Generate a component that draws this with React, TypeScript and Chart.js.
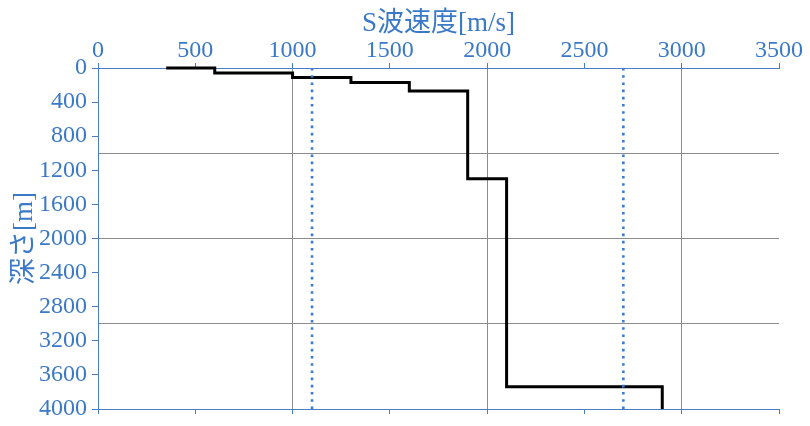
import React, { useEffect, useRef } from "react";
import { Chart, registerables } from "chart.js";

Chart.register(...registerables);

// Step profile: S-wave velocity [m/s] vs depth [m]
const profileVelocity = [350, 600, 600, 1000, 1000, 1300, 1300, 1600, 1600, 1900, 1900, 2100, 2100, 2900, 2900];
const profileDepth = [0, 0, 60, 60, 110, 110, 170, 170, 270, 270, 1300, 1300, 3740, 3740, 4000];

// Dotted reference velocities
const guideVelocities = [1100, 2700];
const guideDepthRange = [0, 4000];

// Axis tick settings
const xTicks = [0, 500, 1000, 1500, 2000, 2500, 3000, 3500];
const xGridValues = [1000, 2000, 3000];
const yTickLabels = [0, 400, 800, 1200, 1600, 2000, 2400, 2800, 3200, 3600, 4000];
const yGridValues = [1000, 2000, 3000];

const xTitle = "S波速度[m/s]";
const yTitle = "深さ[m]";

const AXIS_BLUE = "#4a7ec4";
const TEXT_BLUE = "#3a78c8";
const GRID_GRAY = "#8c8c8c";
const DOT_BLUE = "#3a7bd5";
const FONT = "'Liberation Serif', 'Noto Sans CJK JP', serif";

export default function App() {
  const ref = useRef<HTMLCanvasElement | null>(null);

  useEffect(() => {
    if (!ref.current) return;
    const profile = profileVelocity.map((v, i) => ({ x: v, y: profileDepth[i] }));
    const guides = guideVelocities.map((v) => ({
      data: guideDepthRange.map((d) => ({ x: v, y: d })),
      borderColor: DOT_BLUE,
      borderWidth: 2.6,
      borderDash: [2.6, 4.6],
      borderCapStyle: "butt" as const,
      showLine: true,
      pointRadius: 0,
      fill: false,
    }));
    const yAll = Array.from(new Set([...yTickLabels, ...yGridValues])).sort((a, b) => a - b);

    const chart = new Chart(ref.current, {
      type: "scatter",
      data: {
        datasets: [
          ...guides,
          {
            data: profile,
            borderColor: "#000000",
            borderWidth: 3,
            showLine: true,
            pointRadius: 0,
            fill: false,
            tension: 0,
            clip: 6,
            borderJoinStyle: "miter",
          } as any,
        ],
      },
      options: {
        animation: false,
        responsive: true,
        maintainAspectRatio: false,
        layout: { padding: { left: 0, right: 31, top: 0, bottom: 0 } },
        plugins: { legend: { display: false }, tooltip: { enabled: false } },
        scales: {
          x: {
            type: "linear",
            position: "top",
            min: 0,
            max: 3500,
            afterBuildTicks: (s: any) => {
              s.ticks = xTicks.map((v) => ({ value: v }));
            },
            ticks: {
              color: TEXT_BLUE,
              font: { family: FONT, size: 24, lineHeight: 1 },
              padding: 0,
              maxRotation: 0,
              autoSkip: false,
              callback: (v: any) => String(v),
            },
            grid: {
              color: (c: any) => (xGridValues.includes(c.tick?.value) ? GRID_GRAY : "rgba(0,0,0,0)"),
              tickColor: AXIS_BLUE,
              tickLength: 5,
              lineWidth: 1,
            },
            border: { color: AXIS_BLUE, width: 1 },
            title: {
              display: true,
              text: xTitle,
              color: TEXT_BLUE,
              font: { family: FONT, size: 27, lineHeight: 1.2 },
              padding: { top: 8, bottom: 0 },
            },
            afterFit: (s: any) => {
              s.height = 68;
              s.paddingLeft = 0;
              s.paddingRight = 0;
            },
          },
          x2: {
            type: "linear",
            position: "bottom",
            min: 0,
            max: 3500,
            afterBuildTicks: (s: any) => {
              s.ticks = xTicks.map((v) => ({ value: v }));
            },
            ticks: { display: false },
            grid: { drawOnChartArea: false, tickColor: AXIS_BLUE, tickLength: 5 },
            border: { color: AXIS_BLUE, width: 1 },
            afterFit: (s: any) => {
              s.height = 17;
              s.paddingLeft = 0;
              s.paddingRight = 0;
            },
          },
          y: {
            type: "linear",
            position: "left",
            reverse: true,
            min: 0,
            max: 4000,
            afterBuildTicks: (s: any) => {
              s.ticks = yAll.map((v) => ({ value: v }));
            },
            ticks: {
              color: TEXT_BLUE,
              font: { family: FONT, size: 24, lineHeight: 1 },
              padding: 5,
              autoSkip: false,
              callback: (v: any) => (yTickLabels.includes(Number(v)) ? String(v) : ""),
            },
            grid: {
              color: (c: any) => (yGridValues.includes(c.tick?.value) ? GRID_GRAY : "rgba(0,0,0,0)"),
              tickColor: (c: any) => (yTickLabels.includes(c.tick?.value) ? AXIS_BLUE : "rgba(0,0,0,0)"),
              tickLength: 6,
              lineWidth: 1,
            },
            border: { color: AXIS_BLUE, width: 1 },
            title: {
              display: true,
              text: yTitle,
              color: TEXT_BLUE,
              font: { family: FONT, size: 27, lineHeight: 1.2 },
              padding: { top: 9, bottom: 0 },
            },
            afterFit: (s: any) => {
              s.width = 98;
            },
          },
        },
      },
    });
    return () => chart.destroy();
  }, []);

  return (
    <div style={{ position: "fixed", left: 0, top: 0, width: 810, height: 426, background: "#ffffff" }}>
      <canvas ref={ref} />
    </div>
  );
}
